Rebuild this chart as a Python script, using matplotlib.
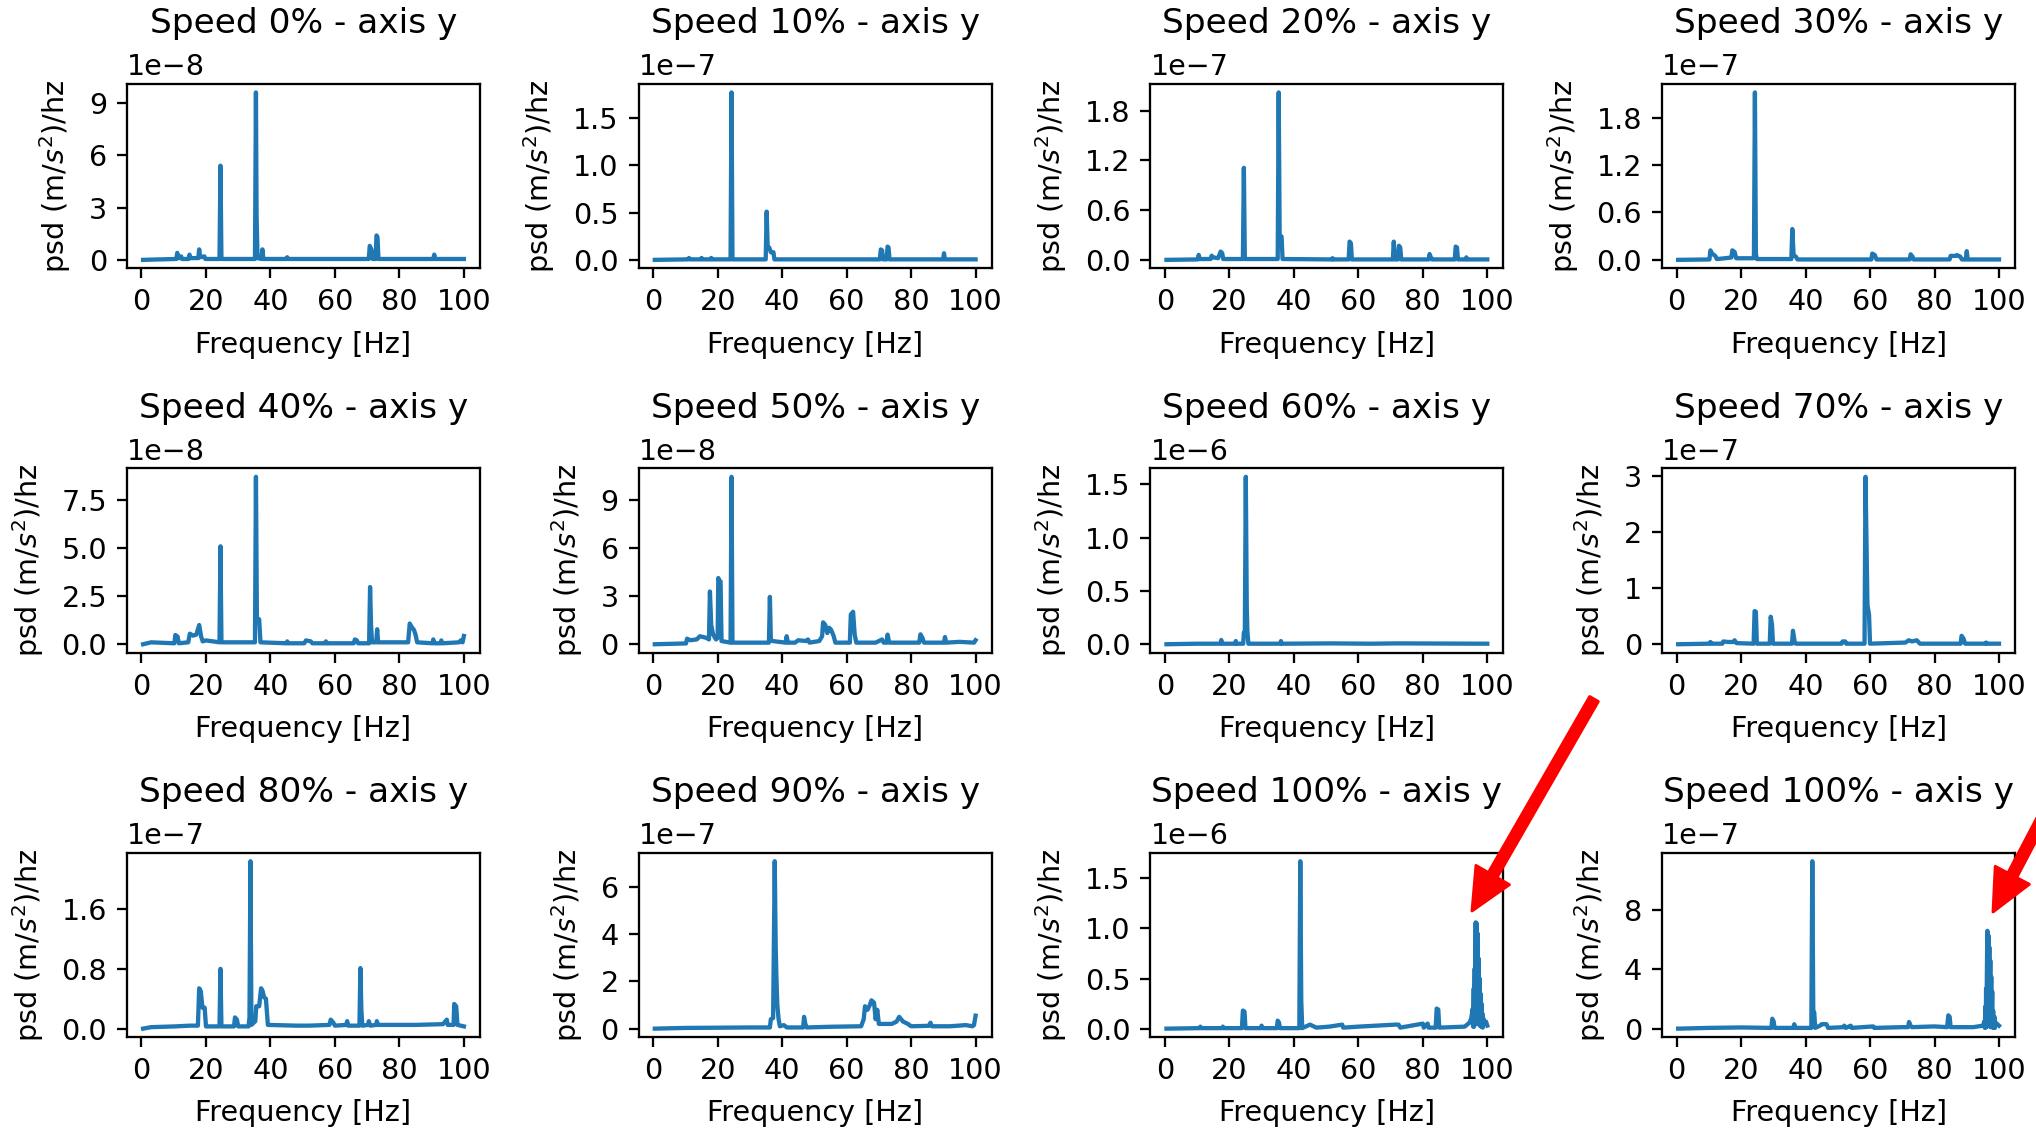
import numpy as np
import matplotlib
matplotlib.use("Agg")
import matplotlib.pyplot as plt
from matplotlib.patches import FancyArrowPatch
from matplotlib.ticker import MaxNLocator
from matplotlib.transforms import IdentityTransform

# (frequency [Hz], psd in units of the panel scale)
speed_0 = [(0.5, 0.0), (10.8, 0.05), (11.1, 0.4), (11.4, 0.1), (12.0, 0.1), (12.3, 0.2), (12.6, 0.05),
           (14.6, 0.05), (14.9, 0.3), (15.2, 0.1), (17.6, 0.1), (17.9, 0.6), (18.2, 0.15), (19.5, 0.2),
           (19.8, 0.05), (24.2, 0.05), (24.5, 5.4), (24.8, 0.05), (35.2, 0.05), (35.5, 9.6), (35.7, 2.5),
           (36.0, 0.1), (37.2, 0.05), (37.5, 0.6), (37.8, 0.05), (45.0, 0.05), (45.2, 0.15), (45.4, 0.05),
           (70.5, 0.05), (70.8, 0.8), (71.3, 0.6), (71.7, 0.05), (72.6, 0.05), (72.9, 1.4), (73.2, 1.3),
           (73.5, 0.05), (90.5, 0.05), (90.8, 0.3), (91.1, 0.05), (100.0, 0.05)]

speed_10 = [(0.5, 0.0), (10.8, 0.005), (11.1, 0.02), (11.4, 0.005), (14.8, 0.005), (15.0, 0.02), (15.3, 0.005),
            (17.8, 0.005), (18.0, 0.02), (18.3, 0.005), (24.0, 0.005), (24.3, 1.77), (24.6, 0.005),
            (34.9, 0.005), (35.2, 0.51), (35.5, 0.14), (36.0, 0.13), (36.5, 0.08), (37.3, 0.08), (37.6, 0.005),
            (70.3, 0.005), (70.6, 0.11), (71.0, 0.1), (71.3, 0.005), (72.4, 0.005), (72.7, 0.14), (73.0, 0.13),
            (73.3, 0.005), (89.9, 0.005), (90.2, 0.07), (90.5, 0.005), (100.0, 0.005)]

speed_20 = [(0.5, 0.0), (10.2, 0.005), (10.5, 0.06), (10.8, 0.01), (14.2, 0.01), (14.5, 0.05), (15.0, 0.03),
            (16.5, 0.02), (17.3, 0.1), (17.8, 0.08), (18.1, 0.01), (24.2, 0.01), (24.5, 1.11), (24.8, 0.01),
            (35.0, 0.01), (35.3, 2.02), (35.6, 0.3), (36.2, 0.28), (36.5, 0.01), (51.8, 0.005), (52.0, 0.02),
            (52.2, 0.005), (57.0, 0.005), (57.3, 0.22), (57.7, 0.2), (58.0, 0.005), (70.7, 0.005), (71.0, 0.22),
            (71.3, 0.005), (72.3, 0.005), (72.6, 0.17), (73.0, 0.15), (73.3, 0.005), (81.8, 0.005), (82.1, 0.07),
            (82.5, 0.03), (82.8, 0.005), (89.9, 0.005), (90.2, 0.16), (90.6, 0.15), (90.9, 0.005),
            (93.3, 0.005), (93.5, 0.03), (93.7, 0.005), (100.0, 0.005)]

speed_30 = [(0.5, 0.0), (10.2, 0.005), (10.5, 0.12), (11.0, 0.08), (12.0, 0.05), (12.5, 0.01), (15.0, 0.02),
            (17.0, 0.03), (17.3, 0.12), (18.0, 0.1), (18.5, 0.02), (23.8, 0.02), (24.0, 0.06), (24.3, 2.12),
            (24.6, 0.08), (24.9, 0.01), (35.6, 0.01), (35.9, 0.39), (36.3, 0.06), (37.0, 0.04), (37.5, 0.005),
            (60.4, 0.005), (60.7, 0.08), (61.5, 0.06), (62.0, 0.005), (72.3, 0.005), (72.6, 0.07), (73.2, 0.04),
            (73.5, 0.005), (84.7, 0.005), (85.0, 0.05), (86.5, 0.05), (87.0, 0.06), (88.0, 0.04), (88.5, 0.005),
            (89.7, 0.005), (90.0, 0.11), (90.3, 0.005), (100.0, 0.005)]

speed_40 = [(0.5, 0.0), (3.0, 0.1), (10.2, 0.05), (10.5, 0.48), (11.2, 0.4), (11.6, 0.05), (14.5, 0.1),
            (15.0, 0.55), (16.0, 0.45), (17.0, 0.5), (17.9, 1.0), (18.5, 0.4), (19.0, 0.15), (20.0, 0.2),
            (24.2, 0.1), (24.5, 5.1), (24.8, 0.1), (35.2, 0.1), (35.5, 8.72), (35.8, 1.35), (36.5, 1.3),
            (36.9, 0.1), (45.0, 0.05), (45.2, 0.15), (45.4, 0.05), (50.5, 0.05), (51.0, 0.2), (52.5, 0.15),
            (53.0, 0.05), (57.0, 0.05), (57.2, 0.15), (57.4, 0.05), (65.8, 0.05), (66.2, 0.25), (66.8, 0.2),
            (67.2, 0.05), (70.6, 0.05), (70.9, 2.98), (71.2, 1.0), (71.5, 0.1), (72.8, 0.1), (73.1, 0.78),
            (73.4, 0.1), (82.7, 0.1), (83.2, 1.08), (83.8, 0.9), (84.5, 0.75), (85.0, 0.5), (85.5, 0.1),
            (90.3, 0.05), (90.5, 0.25), (90.8, 0.05), (92.8, 0.05), (93.0, 0.2), (93.3, 0.05), (98.5, 0.1),
            (99.0, 0.2), (99.6, 0.1), (100.0, 0.43)]

speed_50 = [(0.5, 0.0), (10.2, 0.05), (10.5, 0.35), (11.5, 0.25), (13.5, 0.3), (14.5, 0.5), (15.5, 0.45),
            (16.5, 0.4), (17.3, 0.3), (17.6, 3.3), (18.0, 1.2), (18.6, 0.6), (19.5, 0.3), (20.0, 0.4),
            (20.2, 4.14), (20.6, 3.9), (20.9, 3.93), (21.2, 0.2), (24.0, 0.1), (24.3, 10.47), (24.6, 0.1),
            (35.9, 0.1), (36.2, 2.96), (36.5, 0.3), (37.0, 0.2), (41.1, 0.1), (41.4, 0.5), (41.8, 0.1),
            (44.0, 0.1), (45.0, 0.25), (47.5, 0.2), (48.0, 0.3), (48.5, 0.1), (51.5, 0.2), (52.4, 0.5),
            (52.7, 1.37), (53.4, 1.2), (54.0, 0.7), (54.6, 1.03), (55.2, 0.9), (56.0, 0.5), (56.5, 0.1),
            (61.0, 0.1), (61.3, 1.86), (62.0, 2.03), (62.5, 0.6), (63.0, 0.1), (69.0, 0.1), (71.0, 0.3),
            (71.5, 0.1), (72.4, 0.1), (72.7, 0.6), (73.2, 0.1), (82.5, 0.1), (82.9, 0.62), (83.5, 0.4),
            (84.0, 0.1), (90.2, 0.1), (90.5, 0.45), (90.9, 0.1), (95.0, 0.15), (99.5, 0.1), (100.0, 0.25)]

speed_60 = [(0.5, 0.0), (10.0, 0.005), (17.2, 0.005), (17.5, 0.04), (17.8, 0.005), (21.8, 0.005), (22.0, 0.03),
            (22.2, 0.005), (24.3, 0.005), (24.5, 0.11), (24.8, 0.11), (25.1, 1.57), (25.4, 0.35), (25.6, 0.12),
            (25.9, 0.005), (35.8, 0.005), (36.0, 0.03), (36.3, 0.005), (52.0, 0.008), (64.0, 0.005),
            (72.0, 0.008), (100.0, 0.005)]

speed_70 = [(0.5, 0.0), (10.2, 0.01), (10.5, 0.04), (10.8, 0.01), (14.2, 0.01), (14.5, 0.05), (16.0, 0.04),
            (17.7, 0.04), (18.0, 0.07), (18.6, 0.02), (23.9, 0.01), (24.2, 0.59), (24.6, 0.58), (24.9, 0.01),
            (28.9, 0.01), (29.2, 0.49), (29.6, 0.35), (29.9, 0.01), (35.8, 0.01), (36.1, 0.24), (36.6, 0.05),
            (37.0, 0.01), (51.2, 0.01), (51.5, 0.05), (52.3, 0.05), (52.6, 0.01), (58.3, 0.01), (58.6, 2.98),
            (59.2, 0.7), (59.7, 0.52), (60.0, 0.01), (71.0, 0.03), (72.0, 0.07), (73.0, 0.05), (74.5, 0.07),
            (75.5, 0.01), (88.1, 0.01), (88.4, 0.15), (89.0, 0.1), (89.5, 0.01), (95.8, 0.01), (96.0, 0.03),
            (96.2, 0.01), (100.0, 0.01)]

speed_80 = [(0.5, 0.0), (3.0, 0.02), (10.5, 0.03), (15.0, 0.04), (17.5, 0.04), (17.9, 0.54), (18.4, 0.5),
            (18.9, 0.28), (19.6, 0.28), (20.0, 0.03), (24.2, 0.03), (24.5, 0.8), (24.8, 0.03), (28.7, 0.03),
            (29.0, 0.15), (29.6, 0.12), (30.0, 0.03), (33.2, 0.03), (33.5, 0.15), (33.8, 2.24), (34.1, 0.05),
            (35.3, 0.1), (35.6, 0.3), (36.5, 0.3), (37.1, 0.54), (37.6, 0.5), (38.0, 0.42), (38.6, 0.4),
            (39.2, 0.05), (48.0, 0.04), (52.0, 0.04), (58.3, 0.05), (58.7, 0.12), (59.5, 0.08), (60.0, 0.04),
            (63.5, 0.05), (63.8, 0.1), (64.1, 0.04), (67.6, 0.04), (67.9, 0.81), (68.2, 0.25), (68.5, 0.04),
            (70.3, 0.05), (70.5, 0.1), (71.0, 0.04), (72.8, 0.05), (73.0, 0.1), (73.4, 0.05), (85.0, 0.05),
            (93.5, 0.06), (94.7, 0.12), (95.0, 0.05), (96.8, 0.05), (97.0, 0.33), (97.6, 0.3), (98.0, 0.05),
            (100.0, 0.03)]

speed_90 = [(0.5, 0.0), (10.0, 0.03), (20.0, 0.04), (30.0, 0.05), (36.2, 0.05), (36.5, 0.4), (37.2, 0.45),
            (37.7, 7.1), (38.0, 3.5), (38.2, 2.3), (38.5, 1.0), (38.9, 0.4), (39.3, 0.1), (40.5, 0.15),
            (41.5, 0.05), (46.5, 0.05), (46.8, 0.5), (47.2, 0.2), (47.6, 0.05), (55.0, 0.08), (64.5, 0.1),
            (65.3, 0.4), (65.7, 0.95), (66.5, 0.8), (67.2, 1.0), (67.7, 1.2), (68.5, 1.1), (69.0, 0.4),
            (69.5, 0.8), (70.0, 0.2), (72.0, 0.2), (74.0, 0.2), (75.5, 0.3), (76.3, 0.5), (77.5, 0.3),
            (79.0, 0.2), (80.0, 0.1), (85.5, 0.12), (86.0, 0.25), (86.5, 0.1), (92.0, 0.1), (97.0, 0.15),
            (99.0, 0.1), (99.5, 0.15), (100.0, 0.55)]

speed_100_a = [(0.5, 0.0), (10.8, 0.005), (11.0, 0.02), (11.2, 0.005), (17.8, 0.005), (18.0, 0.02),
               (18.2, 0.005), (23.9, 0.005), (24.2, 0.18), (24.7, 0.17), (25.0, 0.005), (29.8, 0.005),
               (30.0, 0.03), (30.2, 0.005), (34.7, 0.005), (35.0, 0.08), (35.4, 0.06), (35.7, 0.005),
               (41.7, 0.005), (42.0, 1.67), (42.3, 0.28), (42.6, 0.005), (45.0, 0.04), (47.0, 0.01),
               (51.0, 0.02), (55.0, 0.04), (55.3, 0.01), (60.0, 0.02), (71.5, 0.04), (72.5, 0.04), (73.0, 0.01),
               (80.0, 0.05), (80.3, 0.01), (81.5, 0.05), (81.8, 0.01), (84.0, 0.01), (84.3, 0.2), (84.8, 0.19),
               (85.1, 0.01), (93.0, 0.02), (94.5, 0.06), (95.0, 0.1), (95.5, 0.2), (95.6, 0.02), (95.8, 0.4),
               (95.9, 0.02), (96.1, 0.6), (96.2, 0.05), (96.4, 1.06), (96.5, 0.05), (96.7, 1.05), (96.8, 0.05),
               (97.0, 0.95), (97.1, 0.05), (97.3, 0.7), (97.4, 0.05), (97.6, 0.5), (97.7, 0.03), (97.9, 0.35),
               (98.0, 0.02), (98.2, 0.25), (98.3, 0.02), (98.5, 0.15), (98.6, 0.01), (98.8, 0.1), (99.2, 0.05),
               (99.6, 0.07), (100.0, 0.03)]

speed_100_b = [(0.5, 0.0), (10.0, 0.05), (20.0, 0.08), (29.4, 0.05), (29.7, 0.67), (30.1, 0.5), (30.4, 0.05),
               (36.2, 0.05), (36.5, 0.3), (36.9, 0.05), (41.8, 0.05), (42.1, 11.3), (42.4, 1.2), (42.7, 1.1),
               (43.0, 0.05), (44.5, 0.2), (45.0, 0.3), (46.5, 0.3), (47.0, 0.05), (51.8, 0.1), (52.0, 0.2),
               (52.5, 0.05), (54.0, 0.2), (54.3, 0.05), (61.0, 0.15), (61.3, 0.05), (70.0, 0.1), (71.8, 0.1),
               (72.1, 0.45), (72.6, 0.2), (73.0, 0.1), (80.0, 0.15), (83.9, 0.1), (84.3, 0.9), (84.7, 0.8),
               (85.0, 0.1), (92.0, 0.1), (95.0, 0.2), (95.5, 0.5), (95.6, 0.05), (95.8, 1.5), (95.9, 0.1),
               (96.0, 2.7), (96.1, 0.1), (96.3, 5.0), (96.4, 6.6), (96.5, 0.2), (96.7, 6.3), (96.8, 0.2),
               (97.0, 5.5), (97.1, 0.2), (97.3, 4.6), (97.4, 0.1), (97.6, 3.5), (97.7, 0.1), (97.9, 2.5),
               (98.0, 0.1), (98.2, 1.2), (98.3, 0.05), (98.6, 0.8), (98.7, 0.05), (99.0, 0.4), (99.5, 0.3),
               (100.0, 0.2)]

speeds = ["0%", "10%", "20%", "30%", "40%", "50%", "60%", "70%", "80%", "90%", "100%", "100%"]
scales = [1e-8, 1e-7, 1e-7, 1e-7, 1e-8, 1e-8, 1e-6, 1e-7, 1e-7, 1e-7, 1e-6, 1e-7]
spectra = [speed_0, speed_10, speed_20, speed_30, speed_40, speed_50,
           speed_60, speed_70, speed_80, speed_90, speed_100_a, speed_100_b]
freq_ticks = [0, 20, 40, 60, 80, 100]

DPI = 206
fig, axs = plt.subplots(3, 4, figsize=(2036 / DPI, 1131 / DPI), dpi=DPI)
fig.subplots_adjust(left=0.0624, right=0.9897, top=0.9257, bottom=0.0831,
                    wspace=0.45, hspace=1.087)

for ax, speed, scale, spec in zip(axs.flat, speeds, scales, spectra):
    pts = np.array(spec)
    ax.plot(pts[:, 0], pts[:, 1] * scale)
    ax.set_title(f"Speed {speed} - axis y", pad=7)
    ax.set_xlabel("Frequency [Hz]", labelpad=5)
    ax.set_ylabel(r"psd (m/$s^2$)/hz", labelpad=5.5)
    ax.set_xticks(freq_ticks)
    ax.yaxis.set_major_locator(MaxNLocator(4))

# red arrows drawn over the figure (display pixels, origin bottom-left)
arrows = [((1594, 432), (1472, 220)), ((2105, 432), (1993, 219))]
for start, tip in arrows:
    fig.add_artist(FancyArrowPatch(start, tip, transform=IdentityTransform(),
                                   arrowstyle="simple,head_length=1.45,head_width=1.35,tail_width=0.35",
                                   mutation_scale=10, color="red", shrinkA=0, shrinkB=0))

fig.savefig("out.png", dpi=DPI)
